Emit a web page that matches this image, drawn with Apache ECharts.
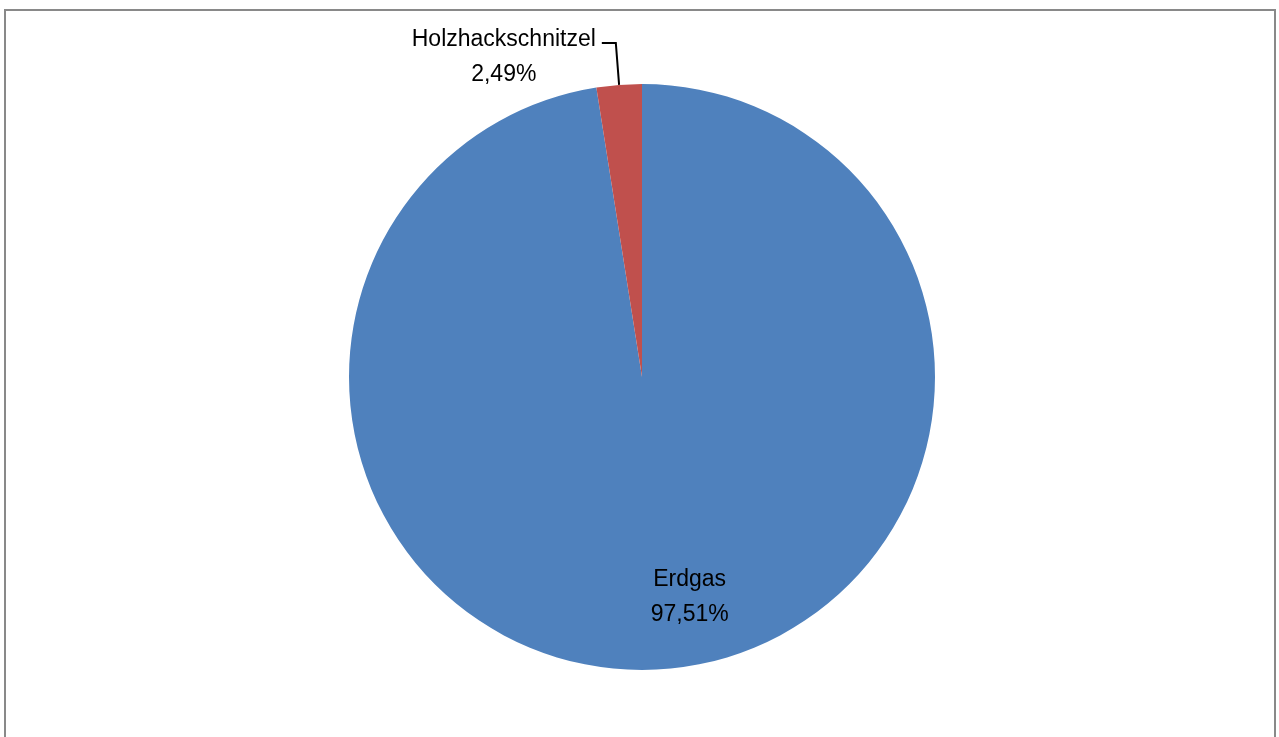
<!DOCTYPE html>
<html>
<head>
<meta charset="utf-8">
<script src="https://cdn.jsdelivr.net/npm/echarts@6/dist/echarts.min.js"></script>
<style>
html,body{margin:0;padding:0;background:#fff;}
#frame{position:absolute;left:4px;top:9px;width:1272px;height:740px;border:2px solid #898989;box-sizing:border-box;}
#chart{position:absolute;left:0;top:0;width:1279px;height:737px;}
</style>
</head>
<body>
<div id="frame"></div>
<div id="chart"></div>
<script>
const categories = ['Erdgas', 'Holzhackschnitzel'];
const values = [97.51, 2.49];
const colors = ['#4F81BD', '#C0504D'];

const fmt = v => v.toFixed(2).replace('.', ',');
const chart = echarts.init(document.getElementById('chart'));
chart.setOption({
  animation: false,
  series: [{
    type: 'pie',
    center: [642, 377],
    radius: 293,
    startAngle: 90,
    clockwise: true,
    avoidLabelOverlap: false,
    itemStyle: { borderWidth: 0 },
    data: categories.map((c, i) => {
      const d = { name: c, value: values[i], itemStyle: { color: colors[i] } };
      if (i === 0) {
        d.label = { position: 'inner', padding: 0 };
        d.labelLine = { show: false };
      }
      return d;
    }),
    label: {
      show: true,
      position: 'outside',
      color: '#000',
      fontFamily: 'Liberation Sans, Arial, sans-serif',
      fontSize: 23,
      lineHeight: 35,
      padding: [28, 0, 0, 0],
      distanceToLabelLine: 6,
      formatter: p => '{a|' + p.name + '}\n{a|' + fmt(p.value) + '%}',
      rich: { a: { align: 'center', fontSize: 23, lineHeight: 35, color: '#000', fontFamily: 'Liberation Sans, Arial, sans-serif' } }
    },
    labelLine: {
      show: true,
      length: 42,
      length2: 14,
      smooth: false,
      lineStyle: { color: '#000', width: 2 }
    },
    labelLayout: function (params) {
      if (params.dataIndex === 0) {
        return { dx: 36, dy: 71 };
      }
      return {};
    }
  }]
});
</script>
</body>
</html>
